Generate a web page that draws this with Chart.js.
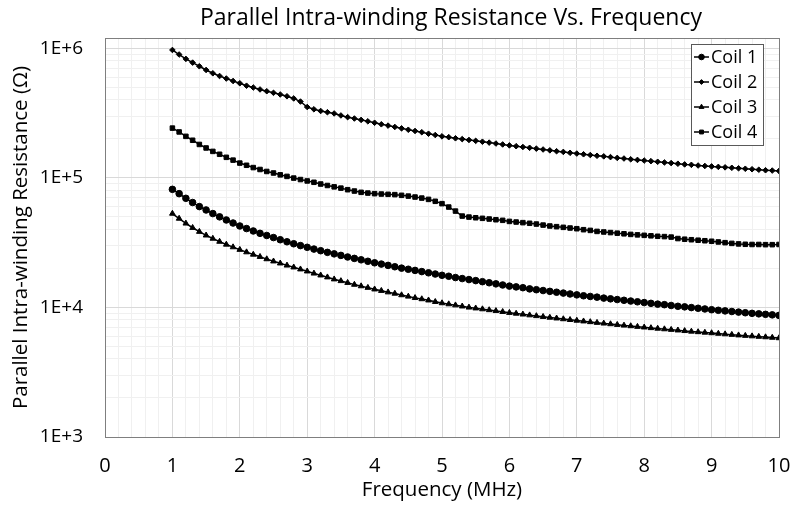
<!DOCTYPE html>
<html>
<head>
<meta charset="utf-8">
<script src="https://cdn.jsdelivr.net/npm/chart.js@4/dist/chart.umd.min.js"></script>
<style>
  html, body { margin: 0; padding: 0; background: #fff; }
  #wrap { width: 800px; height: 510px; }
</style>
</head>
<body>
<div id="wrap"><canvas id="chart" width="800" height="510"></canvas></div>
<script>
// frequency points (MHz)
var freq = [1.0,1.1,1.2,1.3,1.4,1.5,1.6,1.7,1.8,1.9,
    2.0,2.1,2.2,2.3,2.4,2.5,2.6,2.7,2.8,2.9,
    3.0,3.1,3.2,3.3,3.4,3.5,3.6,3.7,3.8,3.9,
    4.0,4.1,4.2,4.3,4.4,4.5,4.6,4.7,4.8,4.9,
    5.0,5.1,5.2,5.3,5.4,5.5,5.6,5.7,5.8,5.9,
    6.0,6.1,6.2,6.3,6.4,6.5,6.6,6.7,6.8,6.9,
    7.0,7.1,7.2,7.3,7.4,7.5,7.6,7.7,7.8,7.9,
    8.0,8.1,8.2,8.3,8.4,8.5,8.6,8.7,8.8,8.9,
    9.0,9.1,9.2,9.3,9.4,9.5,9.6,9.7,9.8,9.9,10.0];

// resistance in kOhm
var coil1 = [81.5,75.5,69.5,64.5,60.0,56.5,53.0,50.0,47.3,44.8,
    42.5,40.6,38.9,37.3,35.9,34.6,33.3,32.1,31.0,30.0,
    29.1,28.2,27.4,26.6,25.9,25.2,24.5,23.9,23.3,22.7,
    22.1,21.6,21.1,20.6,20.1,19.7,19.3,18.9,18.5,18.1,
    17.7,17.4,17.0,16.7,16.4,16.1,15.8,15.5,15.2,14.9,
    14.6,14.4,14.2,13.9,13.7,13.5,13.3,13.1,12.9,12.7,
    12.5,12.3,12.15,12.0,11.8,11.65,11.5,11.35,11.2,11.05,
    10.9,10.75,10.6,10.5,10.35,10.2,10.1,9.97,9.85,9.73,
    9.6,9.5,9.4,9.3,9.2,9.1,9.0,8.92,8.84,8.76,8.68];

var coil2 = [970,895,828,775,726,680,641,611,584,559,
    537,514,498,481,466,453,440,426,410,388,
    352,338,328,321,314,303,294,287,280,273,
    266,259,253,247,241,235,230,225,219,214,
    209,206,202,199,196,193,190,187,184,181,
    178,175.5,173,170.5,168,165.5,163,160.5,158.5,156,
    154,152,150,148,146.5,144.5,142.5,141,139,137.5,
    136,134.5,133,131.5,130,128.5,127,126,124.5,123.5,
    122.5,121.5,120.5,119.5,118.5,117.5,116.5,115.5,114.5,113.8,113];

var coil3 = [53.0,48.5,44.5,41.2,38.4,36.0,34.0,32.2,30.6,29.2,
    27.9,26.7,25.6,24.6,23.6,22.7,21.9,21.1,20.4,19.7,
    19.0,18.3,17.7,17.1,16.5,16.0,15.5,15.0,14.6,14.2,
    13.8,13.45,13.1,12.8,12.45,12.15,11.85,11.6,11.35,11.05,
    10.8,10.6,10.4,10.2,10.0,9.85,9.7,9.55,9.4,9.25,
    9.1,8.97,8.84,8.71,8.59,8.47,8.35,8.24,8.13,8.02,
    7.92,7.82,7.72,7.62,7.53,7.44,7.35,7.26,7.18,7.10,
    7.02,6.94,6.87,6.80,6.73,6.66,6.59,6.52,6.46,6.40,
    6.34,6.28,6.22,6.16,6.10,6.05,6.00,5.95,5.90,5.85,5.80];

var coil4 = [242,226,209,195,181,170,160,152,144,137,
    130,125,120,116,112,109,105.5,102.6,99.6,97,
    94.6,92.4,89.6,87.3,85.2,83.3,81.0,79.1,77.3,76.3,
    75.5,75.0,74.6,74.2,73.3,72.3,71.1,69.8,68.2,65.9,
    63.2,59.5,55.4,50.7,49.8,49.2,48.7,48.1,47.5,47.0,
    46.1,45.6,45.1,44.6,44.0,43.2,42.5,42.0,41.5,41.0,
    40.5,39.8,39.3,38.6,38.2,37.8,37.4,37.0,36.6,36.3,
    36.0,35.7,35.4,35.2,34.9,34.0,33.6,33.3,33.0,32.7,
    32.4,32.0,31.6,31.2,30.9,30.7,30.6,30.6,30.5,30.5,30.6];

var seriesNames = ['Coil 1', 'Coil 2', 'Coil 3', 'Coil 4'];
var xTickLabels = ['0','1','2','3','4','5','6','7','8','9','10'];
var yTickLabels = ['1E+3','1E+4','1E+5','1E+6'];
var chartTitle = 'Parallel Intra-winding Resistance Vs. Frequency';

function toPoints(vals) {
    return freq.map(function (f, i) { return {x: f, y: vals[i] * 1000}; });
}

var FONT = "'Open Sans', 'Noto Sans', sans-serif";

var frame = {
    id: 'frame',
    afterDatasetsDraw: function (chart) {
        var a = chart.chartArea, ctx = chart.ctx;
        ctx.save();
        ctx.strokeStyle = '#7f7f7f';
        ctx.lineWidth = 1;
        ctx.strokeRect(a.left + 0.5, a.top + 0.5, a.right - a.left, a.bottom - a.top);
        ctx.restore();
    }
};

// title, a bit right of the canvas centre like the original
var topTitle = {
    id: 'topTitle',
    afterDraw: function (chart) {
        var ctx = chart.ctx;
        ctx.save();
        ctx.font = '23px ' + FONT;
        ctx.fillStyle = '#000';
        ctx.textAlign = 'center';
        ctx.textBaseline = 'middle';
        ctx.fillText(chartTitle, 451, 18);
        ctx.restore();
    }
};

// legend box drawn inside the plot, top right
var boxLegend = {
    id: 'boxLegend',
    afterDraw: function (chart) {
        var ctx = chart.ctx;
        var x0 = 691, y0 = 44, w = 72, h = 101;
        ctx.save();
        ctx.fillStyle = '#fff';
        ctx.fillRect(x0, y0, w, h);
        ctx.strokeStyle = '#595959';
        ctx.lineWidth = 1;
        ctx.strokeRect(x0 + 0.5, y0 + 0.5, w, h);
        ctx.font = '18px ' + FONT;
        ctx.textBaseline = 'middle';
        chart.data.datasets.forEach(function (ds, i) {
            var cy = y0 + 13 + i * 25;
            ctx.strokeStyle = '#000';
            ctx.fillStyle = '#000';
            ctx.lineWidth = 1.5;
            ctx.beginPath();
            ctx.moveTo(x0 + 3, cy);
            ctx.lineTo(x0 + 18, cy);
            ctx.stroke();
            ctx.lineWidth = 1;
            Chart.helpers.drawPoint(ctx, {pointStyle: ds.pointStyle, radius: ds.pointRadius * 0.85, borderWidth: 1, rotation: 0}, x0 + 10.5, cy);
            ctx.fillStyle = '#000';
            ctx.fillText(ds.label, x0 + 20, cy + 1);
        });
        ctx.restore();
    }
};

function mkSet(i, vals, style, r) {
    return {
        label: seriesNames[i],
        data: toPoints(vals),
        borderColor: '#000',
        backgroundColor: '#000',
        borderWidth: 1.5,
        pointStyle: style,
        pointRadius: r,
        pointBorderWidth: 1,
        pointBackgroundColor: '#000',
        pointBorderColor: '#000',
        tension: 0
    };
}

new Chart(document.getElementById('chart'), {
    type: 'line',
    data: {
        datasets: [
            mkSet(0, coil1, 'circle', 3.3),
            mkSet(1, coil2, 'rectRot', 2.8),
            mkSet(2, coil3, 'triangle', 3.3),
            mkSet(3, coil4, 'rect', 3.2)
        ]
    },
    plugins: [frame, topTitle, boxLegend],
    options: {
        responsive: false,
        animation: false,
        layout: {padding: {left: 9, right: 21, top: 38, bottom: 8}},
        plugins: {
            legend: {display: false},
            tooltip: {enabled: false},
            title: {display: false}
        },
        scales: {
            x: {
                type: 'linear',
                min: 0,
                max: 10,
                afterBuildTicks: function (s) {
                    var t = [];
                    for (var k = 0; k <= 50; k++) t.push({value: k / 5});
                    s.ticks = t;
                },
                afterFit: function (s) {
                    s.height = 65;
                    s.paddingLeft = 0;
                    s.paddingRight = 0;
                },
                ticks: {
                    autoSkip: false,
                    maxRotation: 0,
                    color: '#000',
                    padding: 17,
                    font: {family: FONT, size: 20},
                    callback: function (v) {
                        var r = Math.round(v * 5);
                        return r % 5 === 0 ? xTickLabels[r / 5] : '';
                    }
                },
                grid: {
                    drawTicks: false,
                    color: function (c) {
                        var r = Math.round(c.tick.value * 5);
                        return r % 5 === 0 ? '#d9d9d9' : '#f0f0f0';
                    }
                },
                border: {display: false},
                title: {
                    display: true,
                    text: 'Frequency (MHz)',
                    color: '#000',
                    font: {family: FONT, size: 20.5},
                    padding: {top: 0, bottom: 0}
                }
            },
            y: {
                type: 'logarithmic',
                min: 1000,
                max: 1200000,
                afterBuildTicks: function (s) {
                    var t = [];
                    for (var e = 3; e <= 5; e++) {
                        for (var m = 1; m <= 9; m++) t.push({value: m * Math.pow(10, e)});
                    }
                    t.push({value: 1e6});
                    s.ticks = t;
                },
                afterFit: function (s) { s.width = 96; },
                ticks: {
                    autoSkip: false,
                    color: '#000',
                    padding: 22,
                    font: {family: FONT, size: 19},
                    callback: function (v) {
                        var e = Math.round(Math.log10(v));
                        return Math.abs(v - Math.pow(10, e)) < 1e-6 * v ? yTickLabels[e - 3] : '';
                    }
                },
                grid: {
                    drawTicks: false,
                    color: function (c) {
                        var v = c.tick.value;
                        var e = Math.round(Math.log10(v));
                        return Math.abs(v - Math.pow(10, e)) < 1e-6 * v ? '#d9d9d9' : '#f0f0f0';
                    }
                },
                border: {display: false},
                title: {
                    display: true,
                    text: 'Parallel Intra-winding Resistance (Ω)',
                    color: '#000',
                    font: {family: FONT, size: 20.5},
                    padding: {top: 0, bottom: 0}
                }
            }
        }
    }
});
</script>
</body>
</html>
